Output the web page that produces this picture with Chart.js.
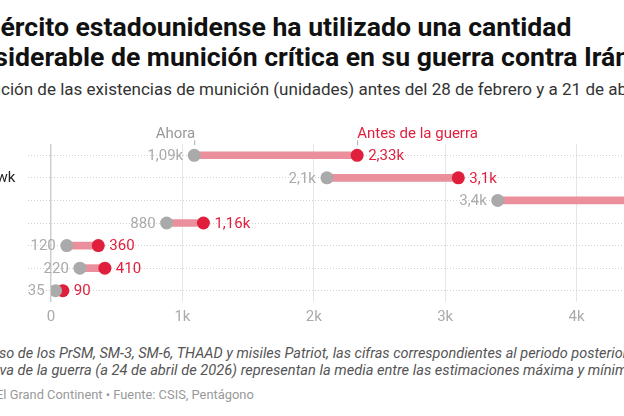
<!DOCTYPE html>
<html>
<head>
<meta charset="utf-8">
<script src="https://cdn.jsdelivr.net/npm/chart.js@4"></script>
<style>
  html, body { margin:0; padding:0; background:#fff; }
  body { width:624px; height:416px; overflow:hidden; position:relative; font-family: Roboto, "Noto Sans", sans-serif; }
  .txt { position:absolute; white-space:nowrap; left:0; }
  .title { font-weight:700; color:#111; line-height:30px; }
  #t1 { top:12px; } #t2 { top:42px; }
  #subtitle { top:79px; line-height:20px; color:#333; }
  .note { font-style:italic; line-height:17px; color:#555; }
  #note1 { top:345px; } #note2 { top:362px; }
  #footer { top:387px; line-height:16px; color:#999; }
  #wrap { position:absolute; left:-58px; top:110px; width:780px; height:230px; }
</style>
</head>
<body>
<div id="t1" class="txt title">El ejército estadounidense ha utilizado una cantidad</div>
<div id="t2" class="txt title">considerable de munición crítica en su guerra contra Irán</div>
<div id="subtitle" class="txt">Evolución de las existencias de munición (unidades) antes del 28 de febrero y a 21 de abril de 2026</div>
<div id="wrap"><canvas id="c"></canvas></div>
<div id="note1" class="txt note">En el caso de los PrSM, SM-3, SM-6, THAAD y misiles Patriot, las cifras correspondientes al periodo posterior a la fase</div>
<div id="note2" class="txt note">ofensiva de la guerra (a 24 de abril de 2026) representan la media entre las estimaciones máxima y mínima.</div>
<div id="footer" class="txt">El Grand Continent • Fuente: CSIS, Pentágono</div>
<script>
const categories = ["Patriot", "Tomahawk", "JASSM", "SM-6", "THAAD", "SM-3", "PrSM"];
const ahora = [1090, 2100, 3400, 880, 120, 220, 35];
const antes = [2330, 3100, 4420, 1160, 360, 410, 90];
const xTicks = [0, 1000, 2000, 3000, 4000, 5000];
const xTickLabels = ["0", "1k", "2k", "3k", "4k", "5k"];

const GRAY = '#aaaaaa';
const RED = '#e01f3d';
const BAR = '#ea8f9b';

// ---- text layout: fit each cropped text line between two measured anchors
const mctx = document.createElement('canvas').getContext('2d');
function widthAt(font, s) { mctx.font = font; return mctx.measureText(s).width; }
function fit(el, style, startSub, startX, endSub, endX) {
  const text = el.textContent;
  const i0 = text.indexOf(startSub), i1 = text.indexOf(endSub) + endSub.length;
  const f = style + ' 100px Roboto';
  const a = widthAt(f, text.slice(0, i0)), b = widthAt(f, text.slice(0, i1));
  const size = 100 * (endX - startX) / (b - a);
  el.style.fontSize = size + 'px';
  el.style.left = (startX - a * size / 100) + 'px';
  return { size, left: startX - a * size / 100 };
}
const T = fit(document.getElementById('t1'), 'bold', 'ército', 0.5, 'cantidad', 571.7);
const t2 = document.getElementById('t2');
t2.style.fontSize = T.size + 'px'; t2.style.left = T.left + 'px';
fit(document.getElementById('subtitle'), 'normal', 'ción', 1, 'antes ', 405);
fit(document.getElementById('note1'), 'italic', 'so de', -1, 'posterio', 623.5);
fit(document.getElementById('note2'), 'italic', 'va de', -0.5, 'míni', 616);
fit(document.getElementById('footer'), 'normal', 'El ', -4, 'Pentágono', 254);

function fmt(v) {
  if (v < 1000) return String(v);
  let s = (v / 1000).toFixed(2).replace(/0+$/, '').replace(/\.$/, '');
  return s.replace('.', ',') + 'k';
}

const labelPlugin = {
  id: 'labels',
  afterDatasetsDraw(chart) {
    const ctx = chart.ctx;
    const xs = chart.scales.x, ys = chart.scales.y;
    ctx.save();
    ctx.font = '15px Roboto';
    ctx.textBaseline = 'middle';
    categories.forEach((c, i) => {
      const y = ys.getPixelForValue(i);
      const xa = xs.getPixelForValue(ahora[i]);
      const xb = xs.getPixelForValue(antes[i]);
      ctx.fillStyle = GRAY; ctx.textAlign = 'right';
      ctx.fillText(fmt(ahora[i]), xa - 11, y + 1);
      ctx.fillStyle = RED; ctx.textAlign = 'left';
      ctx.fillText(fmt(antes[i]), xb + 11, y + 1);
    });
    const y0 = ys.getPixelForValue(0);
    const xa0 = xs.getPixelForValue(ahora[0]);
    const xb0 = xs.getPixelForValue(antes[0]);
    ctx.lineWidth = 1;
    ctx.strokeStyle = '#aaaaaa';
    ctx.beginPath(); ctx.moveTo(xa0 + 0.5, y0 - 15); ctx.lineTo(xa0 + 0.5, y0 - 10); ctx.stroke();
    ctx.beginPath(); ctx.moveTo(xb0 + 0.5, y0 - 15); ctx.lineTo(xb0 + 0.5, y0 - 10); ctx.stroke();
    ctx.textBaseline = 'alphabetic';
    ctx.fillStyle = '#999'; ctx.textAlign = 'right';
    ctx.fillText('Ahora', xa0 + 1, y0 - 17);
    ctx.fillStyle = RED; ctx.textAlign = 'left';
    ctx.fillText('Antes de la guerra', xb0, y0 - 17);
    ctx.restore();
  }
};

new Chart(document.getElementById('c'), {
  type: 'bar',
  data: {
    labels: categories,
    datasets: [
      {
        type: 'bar',
        data: categories.map((c, i) => [ahora[i], antes[i]]),
        backgroundColor: BAR,
        barThickness: 7,
        borderSkipped: false,
        order: 3
      },
      {
        type: 'line',
        data: categories.map((c, i) => ({ x: antes[i], y: c })),
        showLine: false,
        pointRadius: 6.5,
        pointHoverRadius: 6.5,
        pointBackgroundColor: RED,
        pointBorderWidth: 0,
        order: 2
      },
      {
        type: 'line',
        data: categories.map((c, i) => ({ x: ahora[i], y: c })),
        showLine: false,
        pointRadius: 6.5,
        pointHoverRadius: 6.5,
        pointBackgroundColor: GRAY,
        pointBorderWidth: 0,
        order: 1
      }
    ]
  },
  options: {
    indexAxis: 'y',
    responsive: true,
    maintainAspectRatio: false,
    animation: false,
    events: [],
    layout: { padding: { top: 34, right: 10, bottom: 8, left: 0 } },
    plugins: { legend: { display: false }, tooltip: { enabled: false } },
    scales: {
      x: {
        type: 'linear',
        min: 0, max: 5000,
        afterBuildTicks(axis) { axis.ticks = xTicks.map(v => ({ value: v })); },
        ticks: {
          callback: (v, i) => xTickLabels[i],
          color: '#aaaaaa',
          font: { family: 'Roboto', size: 15 },
          padding: 6,
          maxRotation: 0
        },
        grid: {
          drawTicks: false,
          color: ctx => ctx.index === 0 ? '#cfcfcf' : '#e6e6e6',
          lineWidth: ctx => ctx.index === 0 ? 1.5 : 1
        },
        border: { display: false }
      },
      y: {
        type: 'category',
        offset: true,
        afterFit(axis) { axis.width = 109; },
        ticks: {
          crossAlign: 'far',
          color: '#222',
          font: { family: 'Roboto', size: 15 },
          padding: 4
        },
        grid: {
          offset: false,
          drawTicks: true,
          tickLength: 23,
          color: '#d0d0d0',
          tickColor: '#d0d0d0',
          tickBorderDash: [1, 2],
          lineWidth: 1
        },
        border: { display: false, dash: [1, 2] }
      }
    }
  },
  plugins: [labelPlugin]
});
</script>
</body>
</html>
